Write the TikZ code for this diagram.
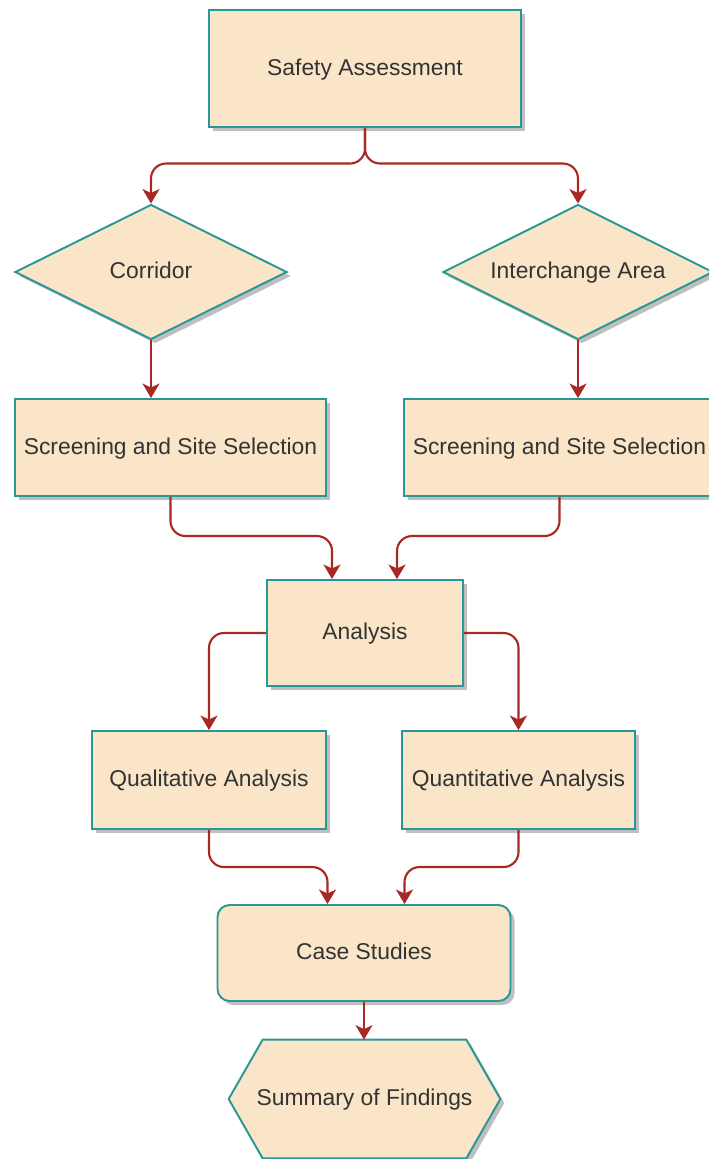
\documentclass[tikz,border=0pt]{standalone}
\usepackage{fontspec}
\setmainfont{Liberation Sans}
\usepackage{tikz}
\usetikzlibrary{arrows.meta,positioning,shapes.geometric,calc,shadows,backgrounds}
\definecolor{boxfill}{RGB}{250,229,200}
\definecolor{boxedge}{RGB}{40,152,150}
\definecolor{flowred}{RGB}{168,40,36}
\definecolor{labelgray}{RGB}{51,51,51}

\begin{document}
\begin{tikzpicture}[
    base/.style={fill=boxfill, draw=boxedge, line width=1.1pt, text=labelgray, font=\fontsize{13}{15}\selectfont, align=center, text height=1.7ex, text depth=0.25ex, drop shadow={shadow xshift=0.08cm, shadow yshift=-0.08cm, fill=black!25, opacity=1}},
    box/.style={base, rectangle, inner sep=2pt},
    decision/.style={base, diamond, aspect=2, inner sep=0pt},
    roundbox/.style={box, rounded corners=0.24cm},
    flow/.style={-{Stealth[length=2.9mm, width=3.4mm, inset=0.8mm]}, draw=flowred, line width=1.2pt, rounded corners=0.3cm},
]
    \useasboundingbox (0,0) rectangle (14.18,-23.18);
    \clip (0,0) rectangle (14.18,-23.18);

    \node[box, minimum width=6.24cm, minimum height=2.34cm] (safety) at (7.30,-1.37) {Safety Assessment};
    \node[decision, minimum width=5.44cm, minimum height=2.70cm] (corridor) at (3.02,-5.44) {Corridor};
    \node[decision, minimum width=5.40cm, minimum height=2.70cm] (interchange) at (11.56,-5.44) {Interchange Area};
    \node[box, minimum width=6.22cm, minimum height=1.94cm] (screenleft) at (3.41,-8.95) {Screening and Site Selection};
    \node[box, minimum width=6.22cm, minimum height=1.94cm] (screenright) at (11.19,-8.95) {Screening and Site Selection};
    \node[box, minimum width=3.92cm, minimum height=2.12cm] (analysis) at (7.30,-12.66) {Analysis};
    \node[box, minimum width=4.68cm, minimum height=1.96cm] (qualitative) at (4.18,-15.60) {Qualitative Analysis};
    \node[box, minimum width=4.66cm, minimum height=1.96cm] (quantitative) at (10.37,-15.60) {Quantitative Analysis};
    \node[roundbox, minimum width=5.86cm, minimum height=1.92cm] (casestudies) at (7.28,-19.06) {Case Studies};
    \node[text=labelgray, font=\fontsize{13}{15}\selectfont, text height=1.7ex, text depth=0.25ex, minimum width=5.42cm, minimum height=2.36cm] (summary) at (7.29,-21.98) {Summary of Findings};

    % hexagon behind the last label
    \begin{scope}[on background layer]
        \draw[base] (summary.west) -- ([xshift=0.68cm]summary.north west) -- ([xshift=-0.68cm]summary.north east)
            -- (summary.east) -- ([xshift=-0.68cm]summary.south east) -- ([xshift=0.68cm]summary.south west) -- cycle;
    \end{scope}

    \draw[flow] (safety.south) |- ([yshift=0.8cm]corridor.north) -- (corridor.north);
    \draw[flow] (safety.south) |- ([yshift=0.8cm]interchange.north) -- (interchange.north);
    \draw[flow] (corridor.south) -- (corridor.south |- screenleft.north);
    \draw[flow] (interchange.south) -- (interchange.south |- screenright.north);
    \draw[flow] (screenleft.south) |- ([xshift=-0.66cm, yshift=0.86cm]analysis.north) -- ([xshift=-0.66cm]analysis.north);
    \draw[flow] (screenright.south) |- ([xshift=0.64cm, yshift=0.86cm]analysis.north) -- ([xshift=0.64cm]analysis.north);
    \draw[flow] (analysis.west) -| (qualitative.north);
    \draw[flow] (analysis.east) -| (quantitative.north);
    \draw[flow] (qualitative.south) |- ([xshift=-0.73cm, yshift=0.74cm]casestudies.north) -- ([xshift=-0.73cm]casestudies.north);
    \draw[flow] (quantitative.south) |- ([xshift=0.81cm, yshift=0.74cm]casestudies.north) -- ([xshift=0.81cm]casestudies.north);
    \draw[flow] (casestudies.south) -- (casestudies.south |- summary.north);
\end{tikzpicture}
\end{document}
